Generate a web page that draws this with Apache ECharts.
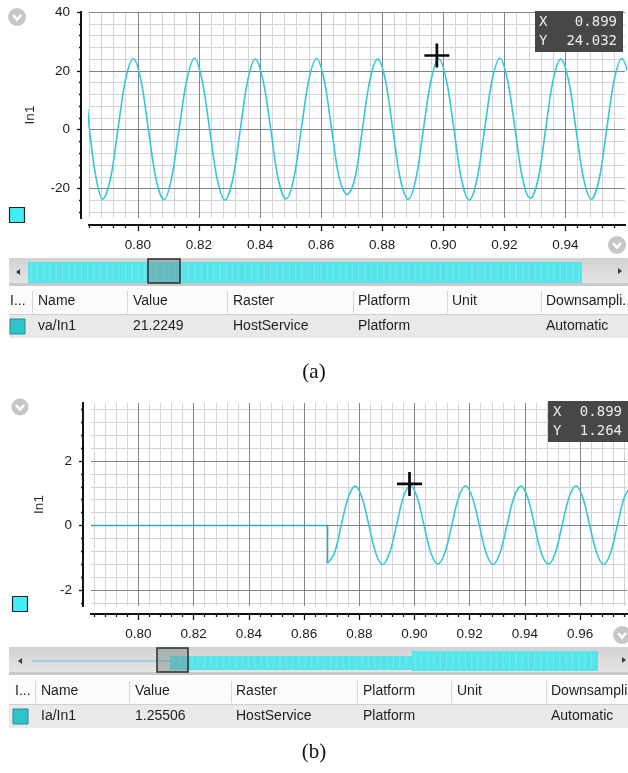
<!DOCTYPE html>
<html><head><meta charset="utf-8">
<script src="https://cdn.jsdelivr.net/npm/echarts@6/dist/echarts.min.js"></script>
<style>html,body{margin:0;padding:0;background:#fff;}#c{width:628px;height:773px;}</style>
</head><body><div id="c"></div>
<script>
// ---------- data (a) ----------
const timesA = [
0.7835,0.786,0.7885,0.791,0.7935,0.796,0.7985,0.801,
0.8035,0.806,0.8085,0.811,0.8135,0.816,0.8185,0.821,
0.8235,0.826,0.8285,0.831,0.8335,0.836,0.8385,0.841,
0.8435,0.846,0.8485,0.851,0.8535,0.856,0.8585,0.861,
0.8635,0.866,0.8685,0.871,0.8735,0.876,0.8785,0.881,
0.8835,0.886,0.8885,0.891,0.8935,0.896,0.8985,0.901,
0.9035,0.906,0.9085,0.911,0.9135,0.916,0.9185,0.921,
0.9235,0.926,0.9285,0.931,0.9335,0.936,0.9385,0.941,
0.9435,0.946,0.9485,0.951,0.9535,0.956,0.9585,0.961];
const valuesA = [
7.0,-14.5,-23.6,-16.8,0.4,17.2,24.1,16.9,
-0.3,-17.1,-23.8,-16.6,0.2,16.8,24.3,17.0,
0.1,-16.9,-23.9,-17.2,-0.2,16.9,24.0,16.7,
0.3,-17.0,-23.5,-16.8,0.1,17.1,24.2,16.9,
-0.2,-16.7,-22.0,-16.9,0.0,17.0,24.0,17.1,
-0.1,-17.0,-23.6,-16.9,0.2,16.8,24.1,16.9,
0.1,-17.1,-23.9,-17.0,-0.1,16.9,24.3,17.0,
0.2,-16.8,-23.3,-17.1,0.0,17.0,24.0,16.8,
-0.2,-16.9,-23.6,-17.0,0.1,17.1,24.2,17.0];
const xMajorA = [0.80,0.82,0.84,0.86,0.88,0.90,0.92,0.94];
const xMinorA = [0.784,0.788,0.792,0.796,0.804,0.808,0.812,0.816,0.824,0.828,0.832,0.836,0.844,0.848,0.852,0.856,0.864,0.868,0.872,0.876,0.884,0.888,0.892,0.896,0.904,0.908,0.912,0.916,0.924,0.928,0.932,0.936,0.944,0.948,0.952,0.956];
const yMajorA = [-20,0,20,40];
const yMinorA = [-28,-24,-16,-12,-8,-4,4,8,12,16,24,28,32,36];
const crossA = [0.8979, 25.2];
const readoutA = ['0.899','24.032'];
const tableHeaders = ['I...','Name','Value','Raster','Platform','Unit','Downsampli..'];
const rowA = ['', 'va/In1', '21.2249', 'HostService', 'Platform', '', 'Automatic'];

// ---------- data (b) ----------
const stepTimesB = [0.7828, 0.8685, 0.8685];
const stepValuesB = [0, 0, -1.17];
const timesB = [
0.8685,0.871,0.8735,0.876,0.8785,0.881,0.8835,0.886,
0.8885,0.891,0.8935,0.896,0.8985,0.901,0.9035,0.906,
0.9085,0.911,0.9135,0.916,0.9185,0.921,0.9235,0.926,
0.9285,0.931,0.9335,0.936,0.9385,0.941,0.9435,0.946,
0.9485,0.951,0.9535,0.956,0.9585,0.961,0.9635,0.966,
0.9685,0.971,0.9735,0.976,0.9785];
const valuesB = [
-1.17,-0.86,0.02,0.87,1.22,0.86,0.0,-0.86,
-1.21,-0.85,0.01,0.88,1.24,0.87,-0.01,-0.86,
-1.2,-0.85,0.0,0.87,1.23,0.86,0.01,-0.86,
-1.21,-0.85,0.0,0.86,1.22,0.87,0.0,-0.86,
-1.2,-0.86,0.01,0.87,1.23,0.86,0.0,-0.85,
-1.21,-0.86,0.0,0.86,1.22];
const xMajorB = [0.80,0.82,0.84,0.86,0.88,0.90,0.92,0.94,0.96];
const xMinorB = [0.784,0.788,0.792,0.796,0.804,0.808,0.812,0.816,0.824,0.828,0.832,0.836,0.844,0.848,0.852,0.856,0.864,0.868,0.872,0.876,0.884,0.888,0.892,0.896,0.904,0.908,0.912,0.916,0.924,0.928,0.932,0.936,0.944,0.948,0.952,0.956,0.964,0.968,0.972,0.976];
const yMajorB = [-2,0,2];
const yMinorB = [-2.4,-1.6,-1.2,-0.8,-0.4,0.4,0.8,1.2,1.6,2.4,2.8,3.2,3.6];
const crossB = [0.8982, 1.29];
const readoutB = ['0.899','1.264'];
const rowB = ['', 'Ia/In1', '1.25506', 'HostService', 'Platform', '', 'Automatic'];

// ---------- styling ----------
const FONT = '"Liberation Sans", Arial, sans-serif';
const lineColor = '#33c7dc';
const majorGrid = '#7f8590';
const minorGrid = '#d4d4d4';
const pairs = (xs, ys) => xs.map((x, i) => [x, ys[i]]);

function mkAxis(o) {
  return {
    type: 'value', gridIndex: o.grid, min: o.min, max: o.max, position: o.pos, offset: o.offset,
    axisLine: {show: true, onZero: false, lineStyle: {color: '#111', width: 2}},
    axisTick: {show: true, inside: false, length: o.tickLen, customValues: o.ticks, lineStyle: {color: '#111', width: 1.3}},
    axisLabel: o.labels ? {show: true, customValues: o.ticks, formatter: o.fmt, fontSize: 13.5, color: '#1a1a1a', margin: o.margin, fontFamily: FONT} : {show: false},
    splitLine: {show: true, lineStyle: {color: o.gridColor, width: 1}},
    name: o.name || '', nameLocation: 'middle', nameGap: o.nameGap || 0,
    nameTextStyle: {fontSize: 13.5, color: '#222', fontFamily: FONT},
    z: o.z
  };
}
const fx = v => v.toFixed(2);
const fy = v => String(v);

const xAxes = [
  mkAxis({grid: 0, min: 0.784, max: 0.9595, pos: 'bottom', offset: 7, tickLen: 3, ticks: xMinorA, gridColor: minorGrid, z: 0}),
  mkAxis({grid: 0, min: 0.784, max: 0.9595, pos: 'bottom', offset: 7, tickLen: 6, ticks: xMajorA, gridColor: majorGrid, labels: true, fmt: fx, margin: 13, z: 1}),
  mkAxis({grid: 1, min: 0.7828, max: 0.977, pos: 'bottom', offset: 8, tickLen: 3, ticks: xMinorB, gridColor: minorGrid, z: 0}),
  mkAxis({grid: 1, min: 0.7828, max: 0.977, pos: 'bottom', offset: 8, tickLen: 6, ticks: xMajorB, gridColor: majorGrid, labels: true, fmt: fx, margin: 13, z: 1})
];
const yAxes = [
  mkAxis({grid: 0, min: -30, max: 40, pos: 'left', offset: 8, tickLen: 2, ticks: yMinorA, gridColor: minorGrid, z: 0}),
  mkAxis({grid: 0, min: -30, max: 40, pos: 'left', offset: 8, tickLen: 4, ticks: yMajorA, gridColor: majorGrid, labels: true, fmt: fy, margin: 11, name: 'In1', nameGap: 44, z: 1}),
  mkAxis({grid: 1, min: -2.5, max: 3.8, pos: 'left', offset: 8, tickLen: 2, ticks: yMinorB, gridColor: minorGrid, z: 0}),
  mkAxis({grid: 1, min: -2.5, max: 3.8, pos: 'left', offset: 8, tickLen: 4, ticks: yMajorB, gridColor: majorGrid, labels: true, fmt: fy, margin: 11, name: 'In1', nameGap: 37, z: 1})
];

const plusSymbol = 'path://M-1.3,-12H1.3V12H-1.3Z M-12,-1.3H12V1.3H-12Z';

// ---------- graphic chrome ----------
const G = [];
function txt(x, y, s, font, fill, align) {
  G.push({type: 'text', x: x, y: y, silent: true, z: 10,
    style: {text: s, font: font, fill: fill || '#1e1e1e', textAlign: align || 'left', textVerticalAlign: 'middle'}});
}
function rect(x, y, w, h, fill, stroke, lw) {
  G.push({type: 'rect', shape: {x: x, y: y, width: w, height: h}, silent: true, z: 5,
    style: {fill: fill, stroke: stroke || null, lineWidth: lw || 0}});
}
function line(x1, y1, x2, y2, color, w, z) {
  G.push({type: 'line', shape: {x1: x1, y1: y1, x2: x2, y2: y2}, silent: true, z: z || 6, style: {stroke: color, lineWidth: w || 1}});
}
function icon(cx, cy, r) {
  G.push({type: 'circle', shape: {cx: cx, cy: cy, r: r}, silent: true, z: 6, style: {fill: '#c6c6c6'}});
  G.push({type: 'polyline', shape: {points: [[cx - 4, cy - 2], [cx, cy + 2.5], [cx + 4, cy - 2]]}, silent: true, z: 7,
    style: {stroke: '#fff', lineWidth: 2.6, fill: null}});
}
function readout(x0, x1, y0, y1, xLetter, xVal, vals) {
  rect(x0, y0, x1 - x0, y1 - y0, '#474747');
  const mono = '14px "DejaVu Sans Mono", monospace';
  const ym = (y0 + y1) / 2;
  txt(xLetter, ym - 9.5, 'X', mono, '#ececec');
  txt(xLetter, ym + 9.5, 'Y', mono, '#ececec');
  txt(xVal, ym - 9.5, vals[0], mono, '#ececec', 'right');
  txt(xVal, ym + 9.5, vals[1], mono, '#ececec', 'right');
}
function navigator(y0, opts) {
  G.push({type: 'rect', shape: {x: 9, y: y0, width: 619, height: 25}, silent: true, z: 4,
    style: {fill: new echarts.graphic.LinearGradient(0, 0, 0, 1, [{offset: 0, color: '#d2d2d2'}, {offset: 1, color: '#e4e4e4'}])}});
  rect(9, y0 + 25, 619, 3, '#c9c9c9');
  G.push({type: 'polygon', shape: {points: [[opts.la, y0 + 14], [opts.la + 4, y0 + 11], [opts.la + 4, y0 + 17]]}, silent: true, z: 6, style: {fill: '#3a3a3a'}});
  G.push({type: 'polygon', shape: {points: [[opts.ra + 4, y0 + 13], [opts.ra, y0 + 10], [opts.ra, y0 + 16]]}, silent: true, z: 6, style: {fill: '#3a3a3a'}});
  opts.bands.forEach(b => {
    rect(b[0], y0 + b[1], b[2] - b[0], b[3] - b[1], '#55e4ea');
    for (let x = b[0] + 3; x < b[2] - 1; x += 6.3) {
      line(x, y0 + b[1] + 1, x, y0 + b[3] - 2, 'rgba(200,250,252,0.28)', 1, 5);
    }
  });
  if (opts.thin) line(opts.thin[0], y0 + opts.thin[2], opts.thin[1], y0 + opts.thin[2], '#86cfe0', 1.3);
  G.push({type: 'rect', shape: {x: opts.sel[0], y: y0 + 1, width: opts.sel[1] - opts.sel[0], height: 24}, silent: true, z: 8,
    style: {fill: 'rgba(120,135,135,0.45)', stroke: '#2e2e2e', lineWidth: 1.5}});
}
function table(y0, cols, divs, row, sq) {
  const f = '14px ' + FONT;
  rect(9, y0, 619, 25, '#fbfbfb');
  line(9, y0 + 25.5, 628, y0 + 25.5, '#cfcfcf', 1);
  divs.forEach(d => line(d + 0.5, y0 + 2, d + 0.5, y0 + 24, '#d6d6d6', 1));
  tableHeaders.forEach((h, i) => txt(cols[i], y0 + 12.5, h, f));
  rect(9, y0 + 26, 619, 23, '#e9e9e9');
  rect(sq[0], sq[1], 15, 15, '#2ec4c9', '#1e8f96', 1);
  row.forEach((s, i) => { if (s) txt(cols[i], y0 + 37.5, s, f); });
}

// panel (a) chrome
icon(17, 17, 9);
icon(617, 245, 9);
rect(9.5, 207.5, 15, 15, '#40eef4', '#222', 1.2);
readout(535, 623, 11, 52, 539, 617, readoutA);
navigator(258, {la: 16, ra: 618, bands: [[28, 4, 582, 25]], sel: [148, 180]});
table(289, [10, 38, 133, 233, 358, 452, 546], [32, 127, 227, 353, 447, 541], rowA, [10, 319]);
txt(314, 372, '(a)', '21px "Liberation Serif", "Times New Roman", serif', '#111', 'center');

// panel (b) chrome
icon(20, 407, 8.5);
icon(622, 635, 9);
rect(12.5, 596.5, 15, 15, '#40eef4', '#222', 1.2);
readout(548, 628, 401, 442, 553, 622, readoutB);
navigator(647, {la: 18, ra: 622, bands: [[170, 9, 412, 23], [412, 4, 598, 24]], thin: [32, 172, 14], sel: [157, 188]});
table(679, [15, 41, 135, 236, 363, 457, 551], [35, 129, 231, 357, 451, 546], rowB, [13, 709]);
txt(314, 752, '(b)', '21px "Liberation Serif", "Times New Roman", serif', '#111', 'center');

const option = {
  animation: false,
  backgroundColor: '#ffffff',
  textStyle: {fontFamily: FONT},
  grid: [
    {left: 89, top: 12, width: 536, height: 206, containLabel: false},
    {left: 91, top: 403, width: 536, height: 203, containLabel: false}
  ],
  xAxis: xAxes,
  yAxis: yAxes,
  series: [
    {type: 'line', xAxisIndex: 1, yAxisIndex: 1, data: pairs(timesA, valuesA), smooth: 0.35, showSymbol: false,
      lineStyle: {color: lineColor, width: 1.6}, clip: true, z: 3},
    {type: 'scatter', xAxisIndex: 1, yAxisIndex: 1, data: [crossA], symbol: plusSymbol, symbolSize: [25, 24],
      itemStyle: {color: '#0a0a0a', opacity: 1}, z: 5},
    {type: 'line', xAxisIndex: 3, yAxisIndex: 3, data: pairs(stepTimesB, stepValuesB), smooth: false, showSymbol: false,
      lineStyle: {color: '#3aa7b8', width: 1.6}, clip: true, z: 3},
    {type: 'line', xAxisIndex: 3, yAxisIndex: 3, data: pairs(timesB, valuesB), smooth: 0.35, showSymbol: false,
      lineStyle: {color: lineColor, width: 1.6}, clip: true, z: 3},
    {type: 'scatter', xAxisIndex: 3, yAxisIndex: 3, data: [crossB], symbol: plusSymbol, symbolSize: [25, 24],
      itemStyle: {color: '#0a0a0a', opacity: 1}, z: 5}
  ],
  graphic: G
};
const chart = echarts.init(document.getElementById('c'));
chart.setOption(option);
</script>
</body></html>
